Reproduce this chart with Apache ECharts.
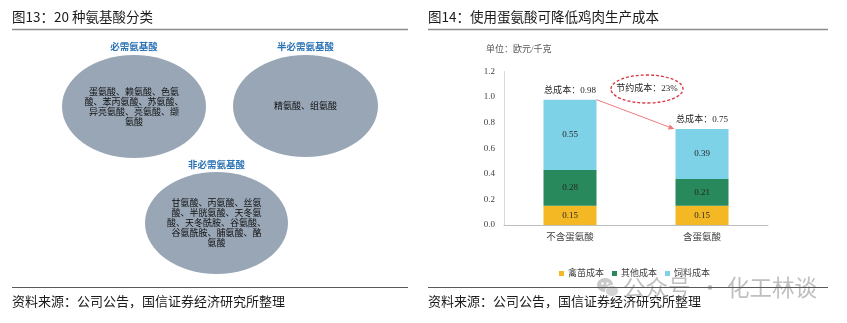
<!DOCTYPE html>
<html>
<head>
<meta charset="utf-8">
<script src="https://cdn.jsdelivr.net/npm/echarts@6/dist/echarts.min.js"></script>
<style>
  html, body { margin: 0; padding: 0; background: #ffffff; }
  #main { width: 847px; height: 323px; }
</style>
</head>
<body>
<div id="main"></div>
<script>
// Cost structure of broiler production, EUR per kg
var categories = ['不含蛋氨酸', '含蛋氨酸'];
var seriesNames = ['禽苗成本', '其他成本', '饲料成本'];
var chickCost = [0.15, 0.15];
var otherCost = [0.28, 0.21];
var feedCost = [0.55, 0.39];
var totalCost = [0.98, 0.75];
var yTicks = [0.0, 0.2, 0.4, 0.6, 0.8, 1.0, 1.2];
var savingText = '节约成本：23%';

// Amino acid groups for the left panel
var groupTitles = ['必需氨基酸', '半必需氨基酸', '非必需氨基酸'];
var groupLines = [
  ['蛋氨酸、赖氨酸、色氨', '酸、苯丙氨酸、苏氨酸、', '异亮氨酸、亮氨酸、缬', '氨酸'],
  ['精氨酸、组氨酸'],
  ['甘氨酸、丙氨酸、丝氨', '酸、半胱氨酸、天冬氨', '酸、天冬酰胺、谷氨酸、', '谷氨酰胺、脯氨酸、酪', '氨酸']
];

var titleLeft = '图13：20 种氨基酸分类';
var titleRight = '图14：使用蛋氨酸可降低鸡肉生产成本';
var sourceText = '资料来源：公司公告，国信证券经济研究所整理';
var unitText = '单位：欧元/千克';
var watermarkHead = '公众号';
var watermarkDot = '·';
var watermarkTail = '化工林谈';

var colors = ['#F4B824', '#27895C', '#7DD2E7'];
var SANS = '"Noto Sans CJK SC", "Noto Sans", sans-serif';
var SERIF = '"Liberation Serif", "Noto Sans CJK SC", serif';
var BAR_W = 53;

var chart = echarts.init(document.getElementById('main'), null, { renderer: 'canvas' });

// Left panel: three grey ellipses with headings and member lists
var ellipses = [
  { cx: 134, cy: 106.5, rx: 72, ry: 51.5, ty: 46.5 },
  { cx: 305.5, cy: 106, rx: 72.5, ry: 51, ty: 46.5 },
  { cx: 216.5, cy: 223, rx: 71.5, ry: 51, ty: 164 }
];
var leftGraphics = [];
ellipses.forEach(function (e, i) {
  leftGraphics.push({
    type: 'ellipse', shape: { cx: e.cx, cy: e.cy, rx: e.rx, ry: e.ry },
    style: { fill: '#98A6B6' }, silent: true
  });
  leftGraphics.push({
    type: 'text', x: e.cx, y: e.ty,
    style: { text: groupTitles[i], fill: '#2E74B5', font: 'bold 9.5px ' + SANS, textAlign: 'center', textVerticalAlign: 'middle' }
  });
  leftGraphics.push({
    type: 'text', x: e.cx, y: e.cy,
    style: {
      text: groupLines[i].join('\n'), fill: '#111111', font: '9px ' + SANS,
      lineHeight: 10, textAlign: 'center', textVerticalAlign: 'middle'
    }
  });
});

// Headings, rules and source notes for both panels
var wmStyle = 'rgba(170,170,170,0.75)';
var frameGraphics = [
  { type: 'text', x: 12, y: 17, style: { text: titleLeft, fill: '#1a1a1a', font: '13.5px ' + SANS, textVerticalAlign: 'middle' } },
  { type: 'text', x: 428, y: 17, style: { text: titleRight, fill: '#1a1a1a', font: '13.5px ' + SANS, textVerticalAlign: 'middle' } },
  { type: 'line', shape: { x1: 12, y1: 29.5, x2: 408, y2: 29.5 }, style: { stroke: '#8c8c8c', lineWidth: 1.5 } },
  { type: 'line', shape: { x1: 428, y1: 29.5, x2: 828, y2: 29.5 }, style: { stroke: '#8c8c8c', lineWidth: 1.5 } },
  { type: 'text', x: 12, y: 301, style: { text: sourceText, fill: '#1a1a1a', font: '13px ' + SANS, textVerticalAlign: 'middle' } },
  { type: 'text', x: 428, y: 301, style: { text: sourceText, fill: '#1a1a1a', font: '13px ' + SANS, textVerticalAlign: 'middle' } },
  { type: 'text', x: 486, y: 50, style: { text: unitText, fill: '#595959', font: '9px ' + SERIF, textVerticalAlign: 'middle' } },
  // dashed callout for the saving
  { type: 'ellipse', shape: { cx: 647, cy: 89, rx: 36, ry: 14 },
    style: { fill: 'none', stroke: '#D9343F', lineWidth: 1.3, lineDash: [3, 2] } },
  { type: 'text', x: 647, y: 89, style: { text: savingText, fill: '#262626', font: '9px ' + SERIF, textAlign: 'center', textVerticalAlign: 'middle' } },
  // channel watermark
  { type: 'group', x: 597, y: 277, children: [
      { type: 'ellipse', shape: { cx: 8, cy: 8, rx: 8, ry: 7 }, style: { fill: '#c9c9c9' } },
      { type: 'ellipse', shape: { cx: 15, cy: 14, rx: 6.5, ry: 5.5 }, style: { fill: '#d4d4d4', stroke: '#ffffff', lineWidth: 1 } },
      { type: 'circle', shape: { cx: 5.5, cy: 6.5, r: 1.2 }, style: { fill: '#ffffff' } },
      { type: 'circle', shape: { cx: 10.5, cy: 6.5, r: 1.2 }, style: { fill: '#ffffff' } }
  ] },
  { type: 'text', x: 623, y: 287, z: 1, style: { text: watermarkHead, fill: wmStyle, font: '22.5px ' + SANS, textVerticalAlign: 'middle' } },
  { type: 'text', x: 710, y: 287, z: 1, style: { text: watermarkDot, fill: wmStyle, font: '22.5px ' + SANS, textAlign: 'center', textVerticalAlign: 'middle' } },
  { type: 'text', x: 727, y: 287, z: 1, style: { text: watermarkTail, fill: wmStyle, font: '22.5px ' + SANS, textVerticalAlign: 'middle' } },
  { type: 'line', z: 2, shape: { x1: 12, y1: 287.5, x2: 408, y2: 287.5 }, style: { stroke: '#595959', lineWidth: 1.2 } },
  { type: 'line', z: 2, shape: { x1: 428, y1: 287.5, x2: 828, y2: 287.5 }, style: { stroke: '#595959', lineWidth: 1.2 } }
];

function valueLabel() {
  return {
    show: true, position: 'inside', color: '#262626',
    fontFamily: SERIF, fontSize: 9,
    formatter: function (p) { return p.value.toFixed(2); }
  };
}

var option = {
  animation: false,
  textStyle: { fontFamily: SERIF },
  grid: { left: 504, right: 79, top: 71.5, bottom: 98, containLabel: false },
  legend: {
    data: seriesNames,
    left: 554, top: 264,
    itemWidth: 5, itemHeight: 5, itemGap: 8,
    icon: 'rect',
    textStyle: { fontFamily: SERIF, fontSize: 9, color: '#404040', padding: [0, 0, 0, -1] }
  },
  xAxis: {
    type: 'category', data: categories,
    axisLine: { lineStyle: { color: '#bfbfbf' } },
    axisTick: { show: false },
    axisLabel: { color: '#404040', fontFamily: SERIF, fontSize: 9.5, margin: 8 }
  },
  yAxis: {
    type: 'value', min: 0, max: 1.2, interval: 0.2,
    axisLine: { show: true, lineStyle: { color: '#d9d9d9' } },
    axisTick: { show: false },
    splitLine: { show: false },
    axisLabel: {
      color: '#404040', fontFamily: SERIF, fontSize: 9, margin: 9,
      formatter: function (v) {
        var t = yTicks.filter(function (k) { return Math.abs(k - v) < 1e-6; });
        return (t.length ? t[0] : v).toFixed(1);
      }
    }
  },
  series: [
    { name: seriesNames[0], type: 'bar', stack: 'cost', barWidth: BAR_W, data: chickCost,
      itemStyle: { color: colors[0] }, label: valueLabel() },
    { name: seriesNames[1], type: 'bar', stack: 'cost', barWidth: BAR_W, data: otherCost,
      itemStyle: { color: colors[1] }, label: valueLabel() },
    { name: seriesNames[2], type: 'bar', stack: 'cost', barWidth: BAR_W, data: feedCost,
      itemStyle: { color: colors[2] }, label: valueLabel() },
    { name: '总成本', type: 'bar', barWidth: BAR_W, barGap: '-100%', data: totalCost, silent: true, z: 1,
      itemStyle: { color: 'rgba(0,0,0,0)' },
      label: { show: true, position: 'top', distance: 5, color: '#262626', fontFamily: SERIF, fontSize: 9,
        formatter: function (p) { return '总成本：' + p.value.toFixed(2); } } }
  ],
  graphic: leftGraphics.concat(frameGraphics)
};

chart.setOption(option);

// Arrow from the top of the first bar to the top of the second
var pA = chart.convertToPixel({ gridIndex: 0 }, [categories[0], totalCost[0]]);
var pB = chart.convertToPixel({ gridIndex: 0 }, [categories[1], totalCost[1]]);
var x1 = pA[0] + BAR_W / 2, y1 = pA[1];
var x2 = pB[0] - BAR_W / 2 - 1, y2 = pB[1];
var ang = Math.atan2(y2 - y1, x2 - x1);
var hl = 6, hw = 2.6;
var bx = x2 - hl * Math.cos(ang), by = y2 - hl * Math.sin(ang);
var arrow = [
  { type: 'line', z: 10, shape: { x1: x1, y1: y1, x2: bx, y2: by }, style: { stroke: '#EE7A7F', lineWidth: 1 } },
  { type: 'polygon', z: 10, shape: { points: [
      [x2, y2],
      [bx + hw * Math.sin(ang), by - hw * Math.cos(ang)],
      [bx - hw * Math.sin(ang), by + hw * Math.cos(ang)]
    ] }, style: { fill: '#EE7A7F' } }
];
chart.setOption({ graphic: leftGraphics.concat(frameGraphics).concat(arrow) });
</script>
</body>
</html>
